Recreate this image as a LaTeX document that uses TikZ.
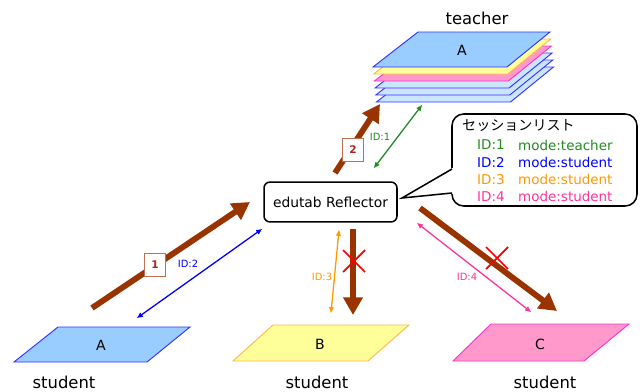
\documentclass[tikz,border=0pt]{standalone}
\usepackage{fontspec}
\setmainfont{DejaVu Sans}
\newfontfamily\jpfont{Noto Sans CJK JP}
\usepackage{tikz}
\usetikzlibrary{arrows.meta}

\definecolor{arrowbrown}{HTML}{993300}
\definecolor{numedge}{HTML}{C07050}
\definecolor{numred}{HTML}{B22222}
\definecolor{idgreen}{HTML}{228B22}
\definecolor{idblue}{HTML}{0000FF}
\definecolor{idorange}{HTML}{FF9900}
\definecolor{idpink}{HTML}{FF3399}
\definecolor{sheetblue}{HTML}{99CCFF}
\definecolor{sheetlight}{HTML}{CCE5FF}
\definecolor{sheetyellow}{HTML}{FFFF99}
\definecolor{sheetpink}{HTML}{FF99CC}
\definecolor{edgeblue}{HTML}{3333FF}
\definecolor{edgeorange}{HTML}{FFB84D}
\definecolor{edgepink}{HTML}{FF33CC}

\begin{document}
\begin{tikzpicture}[x=0.03cm,y=-0.03cm,
    bigarrow/.style={arrowbrown,line width=5pt,-{Triangle[length=15pt,width=16pt]}},
    idarrow/.style={line width=1.1pt,{Triangle[length=5pt,width=4pt]}-{Triangle[length=5pt,width=4pt]}},
    idlabel/.style={font=\fontsize{8.5}{10}\selectfont,inner sep=0pt},
    stepnum/.style={draw=numedge,fill=white,line width=0.7pt,minimum width=18pt,
      minimum height=19pt,inner sep=0pt,text=numred,font=\bfseries\fontsize{9}{10}\selectfont},
    sheetlabel/.style={font=\fontsize{12}{14}\selectfont,inner sep=0pt},
    rolelabel/.style={font=\fontsize{14}{16}\selectfont,inner sep=0pt},
    listtext/.style={font=\fontsize{11.5}{13}\selectfont,inner sep=0pt,anchor=west},
    cross/.style={red,line width=1.5pt}]
  \useasboundingbox (0,0) rectangle (644,392);

  % teacher stack
  \foreach \d/\f/\c in {35/sheetlight/edgeblue,28/sheetlight/edgeblue,21/sheetlight/edgeblue,
                        14/sheetpink/edgepink,7/sheetyellow/edgeorange,0/sheetblue/edgeblue}
    \draw[fill=\f,draw=\c,line width=0.8pt]
      ({418+0.1*\d},{32+\d}) -- ({550+0.1*\d},{32+\d}) -- ({507+0.1*\d},{67+\d}) -- ({373+0.1*\d},{67+\d}) -- cycle;
  \node[sheetlabel] (T) at (462,50) {A};
  \node[rolelabel] (teacher) at (477,18) {teacher};

  % student sheets
  \draw[fill=sheetblue,draw=edgeblue,line width=0.8pt] (58,327) -- (190,327) -- (147,362) -- (14,362) -- cycle;
  \draw[fill=sheetyellow,draw=edgeorange,line width=0.8pt] (273,325) -- (409,325) -- (368,361) -- (233,361) -- cycle;
  \draw[fill=sheetpink,draw=edgepink,line width=0.8pt] (491,324) -- (629,324) -- (584,361) -- (453,361) -- cycle;
  \node[sheetlabel] (A) at (101,345) {A};
  \node[sheetlabel] (B) at (320,344) {B};
  \node[sheetlabel] (C) at (540,344) {C};
  \node[rolelabel] (stA) at (64,382) {student};
  \node[rolelabel] (stB) at (317,382) {student};
  \node[rolelabel] (stC) at (545,382) {student};

  % reflector
  \node[draw,line width=1.3pt,rounded corners=5pt,minimum width=113.5pt,minimum height=34pt,
    inner sep=0pt,font=\fontsize{11.8}{13}\selectfont] (refl) at (330.5,202) {edutab Reflector};

  % session list
  \draw[line width=1.3pt,fill=white,rounded corners=10] (452,114) rectangle (637,206);
  \fill[white] (454,167) -- (402,198) -- (454,194) -- cycle;
  \coordinate (tip) at (402,198);
  \draw[line width=1.3pt] (452,169) -- (tip) -- (452,193);
  \node[listtext,font=\jpfont\fontsize{12}{14}\selectfont] (title) at (462,126) {セッションリスト};
  \foreach \n/\m/\c [count=\i] in {1/teacher/idgreen,2/student/idblue,3/student/idorange,4/student/idpink}{
    \node[listtext,text=\c] (id\n) at (477,{145+17.3*(\i-1)}) {ID:\n};
    \node[listtext,text=\c] (mode\n) at (518,{145+17.3*(\i-1)}) {mode:\m};
  }

  % arrow ends
  \coordinate (a1) at (92,308);
  \coordinate (b1) at (250,202);
  \coordinate (a2) at (335,173);
  \coordinate (b2) at (380,104);
  \coordinate (a3) at (353,229);
  \coordinate (b3) at (353,315);
  \coordinate (a4) at (420,208);
  \coordinate (b4) at (557,311);

  \draw[bigarrow] (a1) -- (b1);
  \draw[bigarrow] (a2) -- (b2);
  \draw[bigarrow] (a3) -- (b3);
  \draw[bigarrow] (a4) -- (b4);
  \node[stepnum] (n1) at (155,265) {1};
  \node[stepnum] (n2) at (353,150) {2};

  \coordinate (g1) at (422,105);
  \coordinate (g2) at (374,168);
  \coordinate (u1) at (262,229);
  \coordinate (u2) at (137,318);
  \coordinate (o1) at (339,230);
  \coordinate (o2) at (331,313);
  \coordinate (p1) at (417,223);
  \coordinate (p2) at (531,312);

  \draw[idarrow,idgreen] (g1) -- (g2);
  \draw[idarrow,idblue] (u1) -- (u2);
  \draw[idarrow,idorange] (o1) -- (o2);
  \draw[idarrow,idpink] (p1) -- (p2);
  \node[idlabel,text=idgreen] (l1) at (380,137) {ID:1};
  \node[idlabel,text=idblue] (l2) at (188,264) {ID:2};
  \node[idlabel,text=idorange] (l3) at (322,277) {ID:3};
  \node[idlabel,text=idpink] (l4) at (467,277) {ID:4};

  % blocked
  \draw[cross] (343,250) -- (365,272) (343,272) -- (365,250);
  \draw[cross] (486,247) -- (508,269) (486,269) -- (508,247);
\end{tikzpicture}
\end{document}
